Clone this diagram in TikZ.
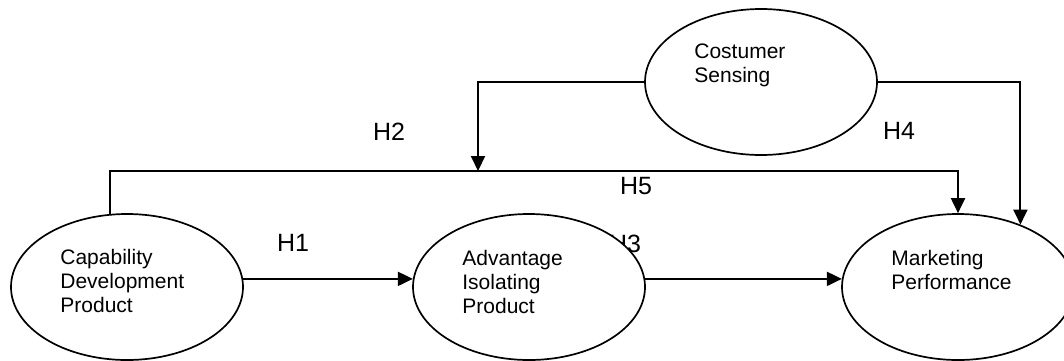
\documentclass[tikz,border=0pt]{standalone}
\usepackage{fontspec}
\setmainfont{Liberation Sans}
\usetikzlibrary{arrows.meta,shapes.geometric,calc}

\begin{document}
\begin{tikzpicture}[x=0.5pt,y=-0.5pt,
  every node/.style={font=\fontsize{10.5}{12}\selectfont,inner sep=0pt},
  var/.style={draw,ellipse,fill=white,line width=0.85pt,minimum width=116pt,minimum height=73pt},
  vtext/.style={anchor=north west,align=left},
  hyp/.style={font=\fontsize{12.5}{14}\selectfont},
  arr/.style={-{Triangle[length=7.5pt,width=7pt]},line width=1pt}]
  \useasboundingbox (0,0) rectangle (1064,360);
  % hypothesis labels (drawn first, H3 sits behind an ellipse)
  \node[hyp] (h1) at (293,243) {H1};
  \node[hyp] (h2) at (389,132) {H2};
  \node[hyp] (h3) at (625,244) {H3};
  \node[hyp] (h4) at (899,131) {H4};
  \node[hyp] (h5) at (636,186) {H5};
  % variables
  \node[var] (cap) at (127,287) {};
  \node[var] (adv) at (529,287) {};
  \node[var] (mkt) at (958,287) {};
  \node[var] (cs) at (761,82) {};
  \node[vtext] (captxt) at ($(cap.center)+(-67,-38)$) {Capability\\Development\\Product};
  \node[vtext] (advtxt) at ($(adv.center)+(-67,-37)$) {Advantage\\Isolating\\Product};
  \node[vtext] (mkttxt) at ($(mkt.center)+(-67,-37)$) {Marketing\\Performance};
  \node[vtext] (cstxt) at ($(cs.center)+(-67,-39)$) {Costumer\\Sensing};
  \coordinate (h2end) at (478,171);
  % paths
  \draw[arr] (cap.4) -- (adv.176);
  \draw[arr] (adv.4) -- (mkt.176);
  \draw[arr] (cap.103) |- ($(h2end)+(0,0)$) -| (mkt.north);
  \draw[arr] (cs.west) -| (h2end);
  \draw[arr] (cs.east) -| (mkt.45);
\end{tikzpicture}
\end{document}
